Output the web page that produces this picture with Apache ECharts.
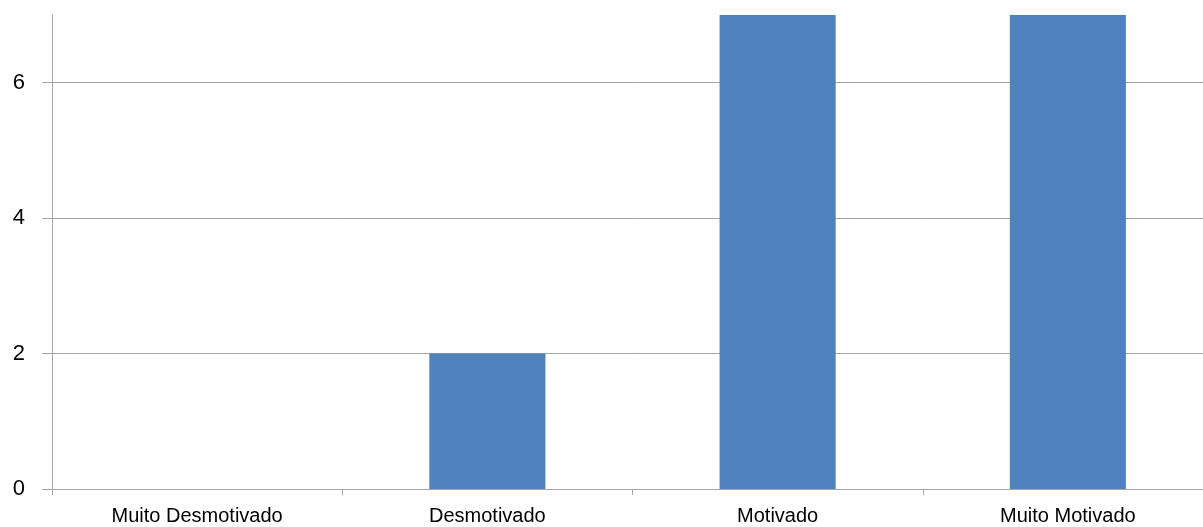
<!DOCTYPE html>
<html><head><meta charset="utf-8">
<script src="https://cdn.jsdelivr.net/npm/echarts@6/dist/echarts.min.js"></script>
<style>html,body{margin:0;padding:0;background:#fff;overflow:hidden;width:1203px;height:527px}#c{width:1213px;height:527px}</style>
</head><body><div id="c"></div>
<script>
const categories = ["Muito Desmotivado", "Desmotivado", "Motivado", "Muito Motivado"];
const values = [0, 2, 7, 7];
const yTicks = [0, 2, 4, 6];

const chart = echarts.init(document.getElementById('c'), null, {renderer: 'canvas'});
const gray = '#a6a6a6';
const font = '"Liberation Sans", Arial, sans-serif';
chart.setOption({
  animation: false,
  grid: {left: 52, right: 0, top: 15, bottom: 38, containLabel: false},
  xAxis: {
    type: 'category', data: categories,
    axisLine: {lineStyle: {color: gray, width: 1}},
    axisTick: {show: true, alignWithLabel: false, length: 6, lineStyle: {color: gray}},
    axisLabel: {color: '#000', fontSize: 20, fontFamily: font, margin: 17, interval: 0}
  },
  yAxis: {
    type: 'value', min: 0, max: 7, interval: 2,
    axisLine: {show: true, lineStyle: {color: gray, width: 1}},
    axisTick: {show: true, length: 10, customValues: yTicks, lineStyle: {color: gray}},
    axisLabel: {color: '#000', fontSize: 22, fontFamily: font, margin: 27, customValues: yTicks},
    splitLine: {show: true, lineStyle: {color: gray, width: 1}}
  },
  series: [{
    type: 'bar', data: values, barWidth: '40%',
    itemStyle: {color: '#4f81bd'}
  }]
});
</script></body></html>
